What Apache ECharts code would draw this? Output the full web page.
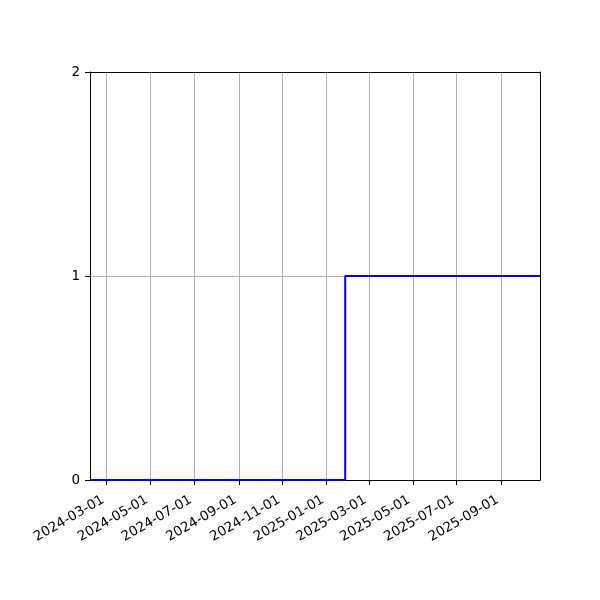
<!DOCTYPE html>
<html>
<head>
<meta charset="utf-8">
<script src="https://cdn.jsdelivr.net/npm/echarts@6/dist/echarts.min.js"></script>
<style>
  html, body { margin: 0; padding: 0; background: #fff; }
  #main { width: 600px; height: 600px; }
</style>
</head>
<body>
<div id="main"></div>
<script>
// step series: value holds from each date until the next one
var dates = ['2024-02-07', '2025-01-27', '2025-10-25'];
var values = [0, 1, 1];

// x axis range and tick marks
var xMin = '2024-02-07';
var xMax = '2025-10-25';
var xTicks = ['2024-03-01', '2024-05-01', '2024-07-01', '2024-09-01', '2024-11-01',
              '2025-01-01', '2025-03-01', '2025-05-01', '2025-07-01', '2025-09-01'];
var yTicks = [0, 1, 2];

function ts (s) {
  var p = s.split('-');
  return Date.UTC(+p[0], +p[1] - 1, +p[2]);
}
function pad (n) { return (n < 10 ? '0' : '') + n; }

// plain black frame line for the top and right sides
var frame = {
  axisLine: { show: true, onZero: false, lineStyle: { color: '#000', width: 1 } },
  axisTick: { show: false },
  axisLabel: { show: false },
  splitLine: { show: false },
  z: 10
};

var myChart = echarts.init(document.getElementById('main'));

var option = {
  animation: false,
  backgroundColor: '#fff',
  grid: { left: 90, right: 60, top: 72, bottom: 120 },
  xAxis: [
    {
      type: 'value',
      min: ts(xMin),
      max: ts(xMax),
      axisLine: { show: true, lineStyle: { color: '#000', width: 1 } },
      axisTick: {
        show: true, length: 5, inside: false,
        customValues: xTicks.map(ts),
        lineStyle: { color: '#000', width: 1 }
      },
      axisLabel: {
        customValues: xTicks.map(ts),
        rotate: 30,
        fontFamily: 'DejaVu Sans',
        fontSize: 13.5,
        color: '#000',
        margin: 17,
        padding: [0, 4, 0, 0],
        formatter: function (v) {
          var d = new Date(v);
          return d.getUTCFullYear() + '-' + pad(d.getUTCMonth() + 1) + '-' + pad(d.getUTCDate());
        }
      },
      splitLine: { show: true, lineStyle: { color: '#b0b0b0', width: 1 } }
    },
    Object.assign({ type: 'value', position: 'top', min: ts(xMin), max: ts(xMax) }, frame)
  ],
  yAxis: [
    {
      type: 'value',
      min: yTicks[0],
      max: yTicks[yTicks.length - 1],
      interval: 1,
      axisLine: { show: true, lineStyle: { color: '#000', width: 1 } },
      axisTick: { show: true, length: 5, lineStyle: { color: '#000', width: 1 } },
      axisLabel: { fontFamily: 'DejaVu Sans', fontSize: 13.5, color: '#000', margin: 10 },
      splitLine: { show: true, lineStyle: { color: '#b0b0b0', width: 1 } }
    },
    Object.assign({ type: 'value', position: 'right', min: yTicks[0], max: yTicks[yTicks.length - 1] }, frame)
  ],
  series: [
    {
      type: 'line',
      step: 'end',
      showSymbol: false,
      symbol: 'none',
      clip: true,
      lineStyle: { color: '#0000ff', width: 2 },
      data: dates.map(function (d, i) { return [ts(d), values[i]]; })
    }
  ]
};

myChart.setOption(option);
</script>
</body>
</html>
